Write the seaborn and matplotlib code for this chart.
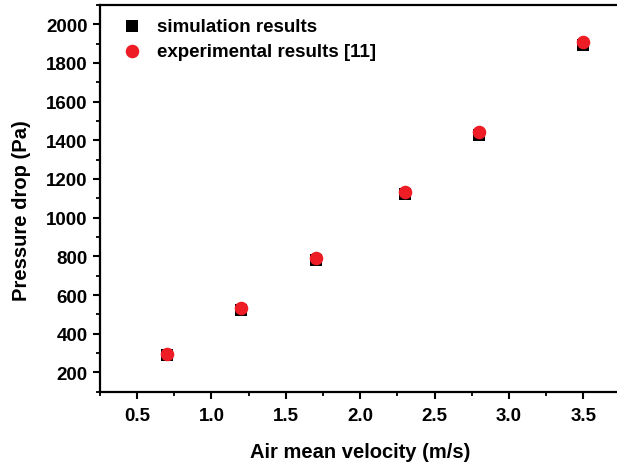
import pandas as pd
import matplotlib.pyplot as plt
import seaborn as sns
from matplotlib.ticker import MultipleLocator

# dados
velocidade = [0.7, 1.2, 1.7, 2.3, 2.8, 3.5]
simulacao = [290, 525, 782, 1122, 1428, 1895]
experimental = [295, 533, 792, 1133, 1442, 1910]

df_sim = pd.DataFrame({'vel': velocidade, 'dp': simulacao})
df_exp = pd.DataFrame({'vel': velocidade, 'dp': experimental})

sns.set_style('ticks')
plt.rcParams['font.family'] = ['Liberation Sans', 'DejaVu Sans']
plt.rcParams['font.weight'] = 'bold'
for k in ['text.color', 'axes.labelcolor', 'xtick.color', 'ytick.color', 'axes.edgecolor']:
    plt.rcParams[k] = 'black'

fig = plt.figure(figsize=(6.17, 4.64), dpi=100)
ax = fig.add_axes([0.162, 0.1537, 0.8436, 0.8334])

sns.scatterplot(data=df_sim, x='vel', y='dp', marker='s', color='black',
                s=70, linewidth=0, label='simulation results', ax=ax)
sns.scatterplot(data=df_exp, x='vel', y='dp', marker='o', color='#ee1c25',
                s=95, linewidth=0, label='experimental results [11]', ax=ax)

ax.set_xlim(0.25, 3.75)
ax.set_ylim(100, 2100)
ax.xaxis.set_major_locator(MultipleLocator(0.5))
ax.xaxis.set_minor_locator(MultipleLocator(0.25))
ax.yaxis.set_major_locator(MultipleLocator(200))
ax.yaxis.set_minor_locator(MultipleLocator(100))

for sp in ax.spines.values():
    sp.set_linewidth(1.6)
ax.tick_params(which='major', length=5, width=1.5, labelsize=13.5, pad=4)
ax.tick_params(axis='x', which='major', pad=6)
ax.tick_params(which='minor', length=3, width=1.3)
for lbl in ax.get_xticklabels() + ax.get_yticklabels():
    lbl.set_fontweight('bold')

ax.set_xlabel('Air mean velocity (m/s)', fontsize=14.5, fontweight='bold', labelpad=13)
ax.set_ylabel('Pressure drop (Pa)', fontsize=14.5, fontweight='bold')
ax.yaxis.set_label_coords(-0.132, 0.47)

leg = ax.legend(loc='upper left', frameon=False, fontsize=13.5, handletextpad=0.35,
                borderaxespad=0.3, labelspacing=0.4, bbox_to_anchor=(0.0, 1.0))
for t in leg.get_texts():
    t.set_fontweight('bold')

fig.savefig('out.png', dpi=100)
